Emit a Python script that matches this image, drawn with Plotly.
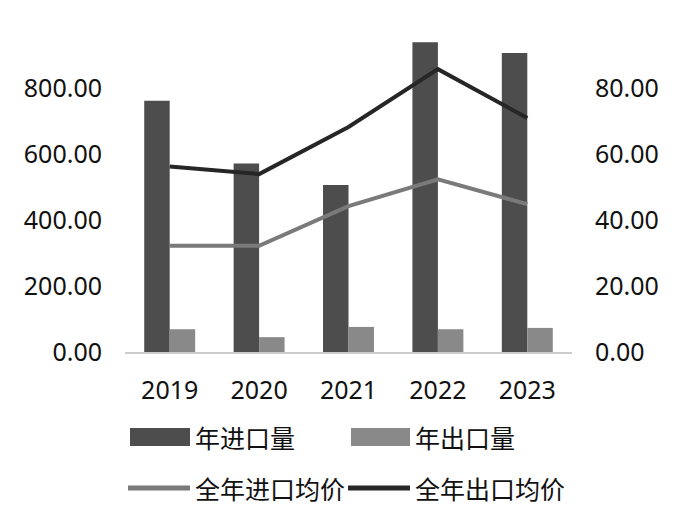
import plotly.graph_objects as go

# data
years = ['2019', '2020', '2021', '2022', '2023']
import_volume = [761, 571, 506, 939, 906]
export_volume = [69, 45, 76, 69, 73]
import_price = [32.2, 32.2, 44.2, 52.3, 44.8]
export_price = [56.2, 53.9, 68.2, 85.7, 70.9]

series_names = ['年进口量', '年出口量', '全年进口均价', '全年出口均价']
left_ticks = [0, 200, 400, 600, 800]
right_ticks = [0, 20, 40, 60, 80]

C_IMP_BAR = '#4d4d4d'
C_EXP_BAR = '#898989'
C_IMP_LINE = '#7a7a7a'
C_EXP_LINE = '#262626'

# the page puts the figure 8px in from the corner, so work in page pixels
OFF = 8
W, H = 684 - OFF, 509 - OFF
PLOT_X0, PLOT_X1, PLOT_Y0, PLOT_Y1 = 125, 572, 22, 352   # page pixels
L, T = PLOT_X0 - OFF, PLOT_Y0 - OFF
R, B = W - (PLOT_X1 - OFF), H - (PLOT_Y1 - OFF)
PW, PH = PLOT_X1 - PLOT_X0, PLOT_Y1 - PLOT_Y0

NUM_FONT = dict(family='Noto Sans', size=25, color='#111111')
CJK_FONT = dict(family='Noto Sans CJK SC', size=25, color='#111111')


def px(x):
    return (x - PLOT_X0) / PW


def py(y):
    return (PLOT_Y1 - y) / PH


fig = go.Figure()

fig.add_trace(go.Bar(x=years, y=import_volume, name=series_names[0],
                     marker=dict(color=C_IMP_BAR, line=dict(width=0)), offsetgroup='a'))
fig.add_trace(go.Bar(x=years, y=export_volume, name=series_names[1],
                     marker=dict(color=C_EXP_BAR, line=dict(width=0)), offsetgroup='b'))
fig.add_trace(go.Scatter(x=years, y=import_price, name=series_names[2], yaxis='y2',
                         mode='lines', line=dict(color=C_IMP_LINE, width=4)))
fig.add_trace(go.Scatter(x=years, y=export_price, name=series_names[3], yaxis='y2',
                         mode='lines', line=dict(color=C_EXP_LINE, width=4)))

# hand-made legend, two rows like the original
shapes = []
annotations = []
legend_rows = [
    (437, [(130, 190, series_names[0], C_IMP_BAR, 'rect'), (351, 410, series_names[1], C_EXP_BAR, 'rect')]),
    (488, [(128, 190, series_names[2], C_IMP_LINE, 'line'), (348, 410, series_names[3], C_EXP_LINE, 'line')]),
]
for yc, items in legend_rows:
    for x0, x1, label, color, kind in items:
        if kind == 'rect':
            shapes.append(dict(type='rect', xref='paper', yref='paper',
                               x0=px(x0), x1=px(x1), y0=py(yc + 9), y1=py(yc - 9),
                               fillcolor=color, line=dict(width=0)))
        else:
            shapes.append(dict(type='line', xref='paper', yref='paper',
                               x0=px(x0), x1=px(x1), y0=py(yc), y1=py(yc),
                               line=dict(color=color, width=5)))
        annotations.append(dict(text=label, xref='paper', yref='paper',
                                x=px(x1 + 3), y=py(yc), xanchor='left', yanchor='middle',
                                showarrow=False, font=CJK_FONT))

fig.update_layout(
    width=W, height=H,
    margin=dict(l=L, r=R, t=T, b=B),
    paper_bgcolor='white', plot_bgcolor='white',
    showlegend=False,
    bargap=0.43, bargroupgap=0,
    barmode='group',
    xaxis=dict(showgrid=False, showline=True, linecolor='#cccccc', linewidth=2,
               ticks='', tickfont=NUM_FONT, ticklabelstandoff=15),
    yaxis=dict(range=[0, 1000], tickvals=left_ticks, tickformat='.2f',
               showgrid=False, zeroline=False, showline=False,
               tickfont=NUM_FONT, ticklabelstandoff=22),
    yaxis2=dict(range=[0, 100], tickvals=right_ticks, tickformat='.2f',
                overlaying='y', side='right', showgrid=False, zeroline=False,
                showline=False, tickfont=NUM_FONT, ticklabelstandoff=22),
    shapes=shapes,
    annotations=annotations,
)

fig.write_html('out.html')
